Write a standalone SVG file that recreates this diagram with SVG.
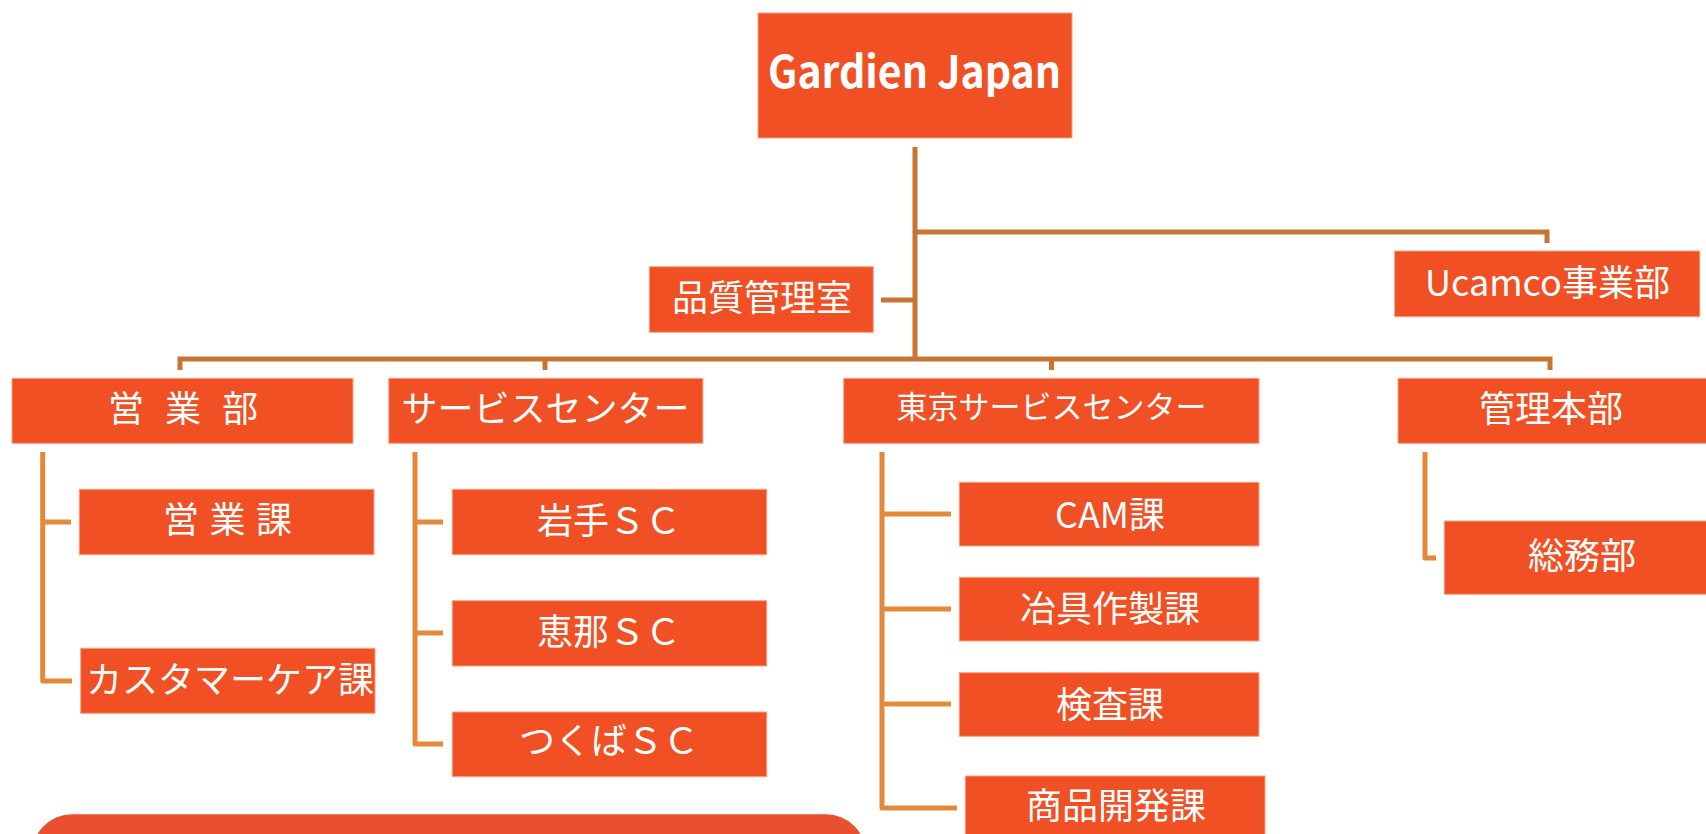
<svg xmlns="http://www.w3.org/2000/svg" width="1706" height="834" viewBox="0 0 1706 834">
<style>
.box{fill:#F05023;stroke:#F6A284;stroke-width:1}
.t{fill:#FFFFFF;font-family:"Noto Sans CJK JP","Noto Sans",sans-serif;font-size:36px;text-anchor:middle}
.main{fill:none;stroke:#C87533;stroke-width:5}
.sub{fill:none;stroke:#E38A3A;stroke-width:5;stroke-linejoin:round}
</style>
<rect width="1706" height="834" fill="#FFFFFF"/>
<g id="connectors">
<path class="main" d="M915 147V361"/>
<path class="main" d="M915 232H1547V243"/>
<path class="main" d="M881 300H915"/>
<path class="main" d="M180 370V359H1550V370"/>
<path class="main" d="M545 359V370"/>
<path class="main" d="M1051.5 359V370"/>
<path class="sub" d="M42.7 452V681H72"/>
<path class="sub" d="M42.7 522H71"/>
<path class="sub" d="M415 452V744H443"/>
<path class="sub" d="M415 522H443"/>
<path class="sub" d="M415 633H443"/>
<path class="sub" d="M882 452V808H957"/>
<path class="sub" d="M882 514H951"/>
<path class="sub" d="M882 609H951"/>
<path class="sub" d="M882 704H951"/>
<path class="sub" d="M1425 452V558H1436"/>
</g>
<g id="gardien-japan">
<rect class="box" x="758" y="13" width="314" height="125"/>
<text class="t" x="914.5" y="88" textLength="293" lengthAdjust="spacingAndGlyphs" style="font-size:44px;font-weight:bold">Gardien Japan</text>
</g>
<g id="hinshitsu">
<rect class="box" x="649.3" y="266.7" width="224" height="65.6"/>
<text class="t" x="762" y="310.5">品質管理室</text>
</g>
<g id="ucamco">
<rect class="box" x="1394.6" y="251" width="305.2" height="65.7"/>
<text class="t" x="1547.5" y="295.5">Ucamco事業部</text>
</g>
<g id="eigyobu">
<rect class="box" x="12" y="378.3" width="341" height="65"/>
<text class="t" x="183" y="421.7" xml:space="preserve" style="word-spacing:13px">営 業 部</text>
</g>
<g id="service-center">
<rect class="box" x="388.8" y="378.3" width="314.1" height="65"/>
<text class="t" x="545.5" y="421.7">サービスセンター</text>
</g>
<g id="tokyo-service-center">
<rect class="box" x="843.7" y="378.3" width="415.3" height="65"/>
<text class="t" x="1051.4" y="417.6" style="font-size:31px">東京サービスセンター</text>
</g>
<g id="kanri-honbu">
<rect class="box" x="1398" y="378.3" width="320" height="65"/>
<text class="t" x="1551" y="421.7">管理本部</text>
</g>
<g id="eigyoka">
<rect class="box" x="79.3" y="489.3" width="294.7" height="65.4"/>
<text class="t" x="227.5" y="532.7" xml:space="preserve" style="word-spacing:2.5px">営 業 課</text>
</g>
<g id="customer-care">
<rect class="box" x="80.7" y="648.3" width="294.3" height="65"/>
<text class="t" x="230" y="692.5">カスタマーケア課</text>
</g>
<g id="iwate-sc">
<rect class="box" x="452.3" y="489.3" width="314.4" height="65.4"/>
<text class="t" x="609" y="533.7">岩手ＳＣ</text>
</g>
<g id="ena-sc">
<rect class="box" x="452.3" y="600.7" width="314.4" height="65.3"/>
<text class="t" x="609" y="645">恵那ＳＣ</text>
</g>
<g id="tsukuba-sc">
<rect class="box" x="452.3" y="712" width="314.4" height="64.7"/>
<text class="t" x="609" y="753.7">つくばＳＣ</text>
</g>
<g id="cam">
<rect class="box" x="959.3" y="482.3" width="299.7" height="63.7"/>
<text class="t" x="1110" y="527.7">CAM課</text>
</g>
<g id="jigu">
<rect class="box" x="959.3" y="577.3" width="299.7" height="63.7"/>
<text class="t" x="1110" y="622.4">冶具作製課</text>
</g>
<g id="kensa">
<rect class="box" x="959.3" y="672.7" width="299.7" height="63.6"/>
<text class="t" x="1110" y="717.5">検査課</text>
</g>
<g id="shohin-kaihatsu">
<rect class="box" x="965.3" y="776" width="299.7" height="70"/>
<text class="t" x="1116" y="818.7">商品開発課</text>
</g>
<g id="somubu">
<rect class="box" x="1444.3" y="521" width="276" height="73.3"/>
<text class="t" x="1582" y="568.7">総務部</text>
</g>
<g id="bottom-panel">
<rect x="32" y="814.3" width="834" height="80" rx="40" ry="40" fill="#E9502F"/>
</g>
</svg>
